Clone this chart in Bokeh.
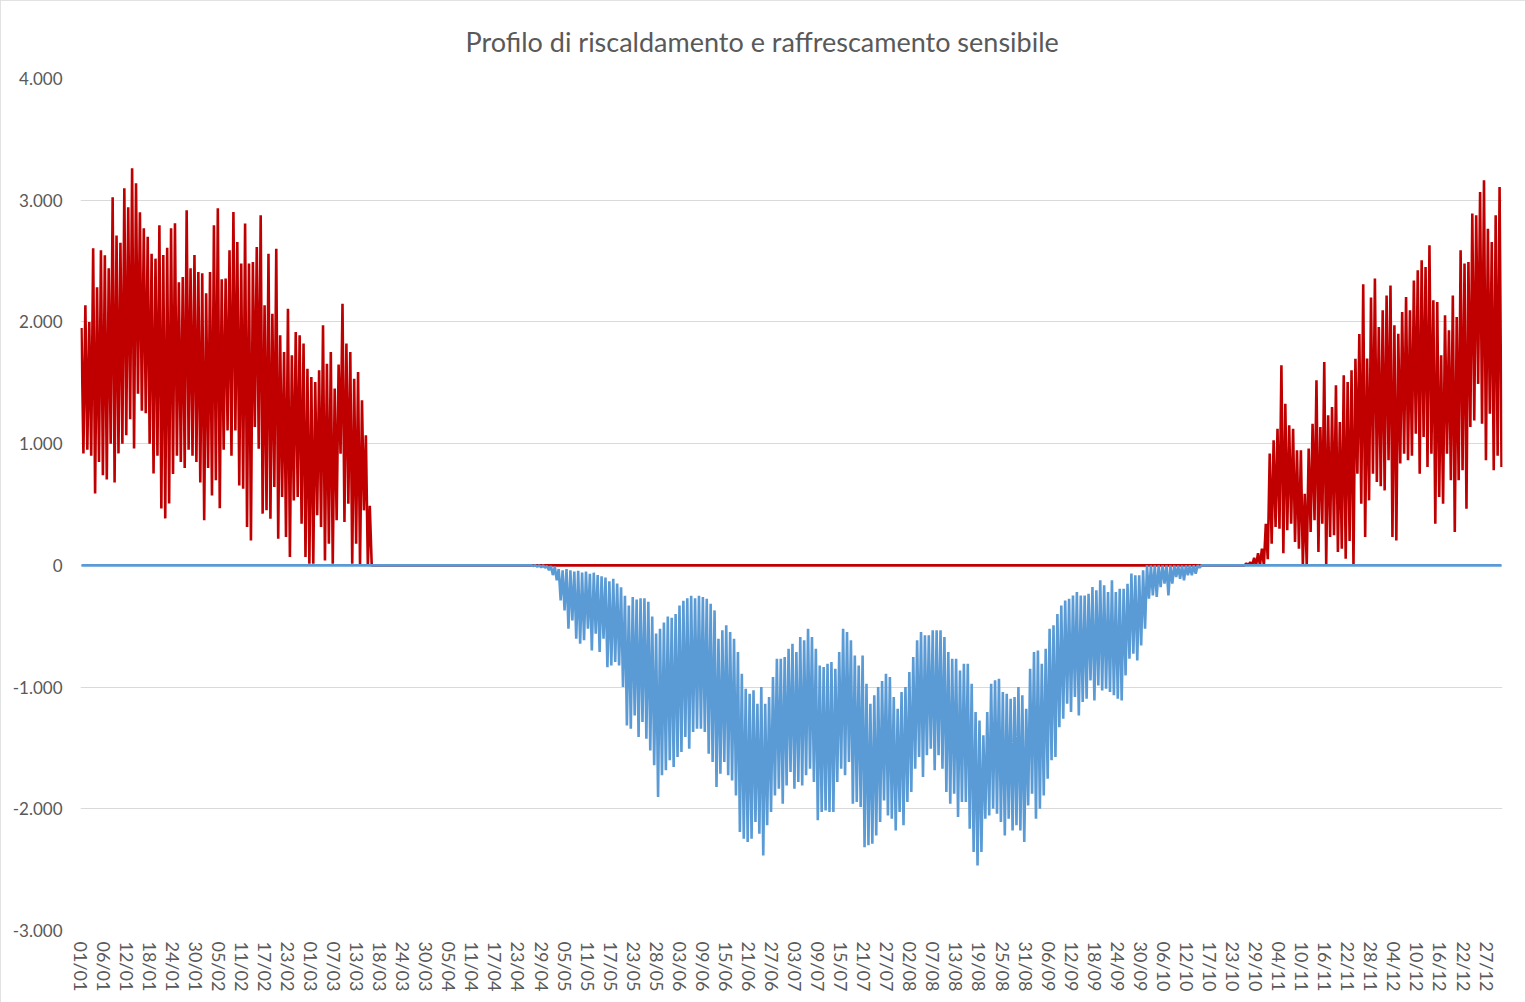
from bokeh.plotting import figure
from bokeh.models import FixedTicker, Range1d
from bokeh.embed import file_html
from bokeh.resources import INLINE

TITLE = "Profilo di riscaldamento e raffrescamento sensibile"

X_TICK_LABELS = ["01/01", "06/01", "12/01", "18/01", "24/01", "30/01", "05/02", "11/02", "17/02", "23/02",
                 "01/03", "07/03", "13/03", "18/03", "24/03", "30/03", "05/04", "11/04", "17/04", "23/04",
                 "29/04", "05/05", "11/05", "17/05", "23/05", "28/05", "03/06", "09/06", "15/06", "21/06",
                 "27/06", "03/07", "09/07", "15/07", "21/07", "27/07", "02/08", "07/08", "13/08", "19/08",
                 "25/08", "31/08", "06/09", "12/09", "18/09", "24/09", "30/09", "06/10", "12/10", "17/10",
                 "23/10", "29/10", "04/11", "10/11", "16/11", "22/11", "28/11", "04/12", "10/12", "16/12",
                 "22/12", "27/12"]
HOURS_PER_LABEL = 142
Y_TICKS = [4000, 3000, 2000, 1000, 0, -1000, -2000, -3000]
Y_TICK_LABELS = ["4.000", "3.000", "2.000", "1.000", "0", "-1.000", "-2.000", "-3.000"]

# Heating (riscaldamento), daily peak / daily minimum, winter from 01/01
HEAT1_START = 0
HEAT1_HIGH = [1950, 2136, 2000, 2605, 2285, 2588, 2547, 2440, 3024, 2711,
              2650, 3098, 2942, 3262, 3139, 2900, 2769, 2700, 2560, 2520,
              2794, 2550, 2610, 2769, 2810, 2325, 2370, 2917, 2440, 2550,
              2410, 2400, 2235, 2410, 2794, 2933, 2350, 2356, 2588, 2903,
              2657, 2479, 2808, 2479, 2493, 2616, 2876, 2136, 2561, 2068,
              2602, 1890, 1753, 2109, 1726, 1917, 1890, 1822, 1616, 1547,
              1506, 1602, 1972, 1657, 1753, 1452, 1650, 2150, 1822, 1753,
              1533, 1588, 1356, 1068, 490]
HEAT1_LOW = [920, 950, 900, 590, 850, 740, 706, 1000, 680, 920,
             1000, 1070, 1200, 960, 1410, 1270, 1250, 1000, 755, 900,
             468, 386, 508, 750, 900, 850, 800, 950, 900, 850,
             680, 370, 800, 575, 700, 470, 950, 1109, 900, 1109,
             657, 630, 315, 205, 1137, 959, 425, 452, 384, 644,
             219, 562, 233, 68, 534, 562, 342, 68, 14, 14,
             411, 315, 41, 178, 14, 370, 918, 356, 507, 14,
             178, 0, 452, 0, 0]

# Heating, autumn/winter season (from day 298)
HEAT2_START = 298
HEAT2_HIGH = [0, 15, 27, 62, 100, 137, 342, 918, 1028, 1123,
              1643, 1328, 1150, 1123, 945, 945, 589, 959, 1164, 1520,
              1137, 1671, 1233, 1301, 1479, 1178, 1561, 1506, 1602, 1698,
              1900, 2310, 1700, 2200, 2356, 1958, 2095, 2218, 2300, 1972,
              1903, 2082, 2205, 2095, 2341, 2424, 2506, 2451, 2629, 2178,
              2164, 1726, 2054, 1931, 2218, 2041, 2588, 2479, 2493, 2890,
              2876, 3068, 3163, 2766, 2657, 2876, 3109]
HEAT2_LOW = [0, 0, 0, 0, 0, 0, 50, 178, 315, 300,
             100, 288, 342, 192, 137, 0, 0, 274, 370, 110,
             342, 0, 233, 247, 110, 137, 55, 200, 0, 753,
             507, 233, 534, 753, 685, 650, 616, 863, 233, 205,
             836, 918, 863, 900, 1082, 753, 1054, 808, 918, 342,
             562, 507, 918, 699, 274, 699, 781, 466, 1136, 1191,
             1491, 1164, 863, 1246, 781, 900, 808]

# Cooling (raffrescamento), daily max (near zero) / daily minimum, from day 116
COOL_START = 116
COOL_HIGH = [0, 0, 0, -5, -5, -10, -30, -40, -30, -40,
             -50, -45, -60, -50, -70, -60, -80, -90, -100, -130,
             -110, -150, -180, -250, -330, -260, -280, -270, -270, -300,
             -420, -560, -520, -470, -420, -430, -400, -330, -290, -270,
             -250, -270, -250, -260, -274, -315, -370, -603, -534, -493,
             -548, -603, -712, -890, -1014, -1055, -1027, -1137, -1000, -1137,
             -1082, -918, -767, -767, -753, -685, -644, -712, -589, -616,
             -520, -589, -685, -822, -836, -808, -794, -849, -712, -520,
             -548, -616, -740, -822, -740, -973, -1137, -1068, -1000, -950,
             -890, -918, -1082, -1178, -1041, -1000, -877, -753, -616, -548,
             -575, -575, -534, -534, -534, -589, -712, -767, -767, -863,
             -808, -808, -973, -1205, -1274, -1397, -1205, -973, -945, -931,
             -1041, -1055, -1096, -1082, -1000, -1068, -1178, -849, -712, -699,
             -808, -685, -520, -493, -400, -329, -288, -274, -247, -219,
             -247, -247, -233, -178, -205, -123, -164, -219, -123, -219,
             -192, -192, -151, -68, -82, -82, -41, 0, 0, 0,
             0, 0, 0, 0, 0, 0, 0, 0, 0, 0,
             0, 0]
COOL_LOW = [-5, -10, -15, -20, -40, -80, -123, -288, -370, -520,
            -452, -603, -644, -616, -520, -699, -562, -712, -603, -836,
            -822, -794, -822, -1000, -1315, -1342, -1233, -1411, -1287, -1424,
            -1520, -1643, -1904, -1725, -1684, -1602, -1657, -1575, -1533, -1411,
            -1506, -1369, -1342, -1342, -1369, -1548, -1616, -1821, -1712, -1616,
            -1725, -1767, -1890, -2191, -2246, -2273, -2246, -2109, -2205, -2383,
            -2136, -2027, -1890, -1835, -1958, -1808, -1698, -1835, -1780, -1808,
            -1725, -1671, -1780, -2095, -2027, -2013, -2027, -2027, -1780, -1671,
            -1725, -1616, -1958, -1945, -1985, -2315, -2300, -2287, -2219, -2109,
            -1931, -2054, -2082, -2178, -2027, -2136, -1945, -1862, -1671, -1575,
            -1739, -1561, -1506, -1684, -1561, -1671, -1862, -1958, -1876, -2068,
            -1945, -1945, -2164, -2355, -2465, -2355, -2082, -2054, -2000, -2041,
            -2109, -2219, -2082, -2178, -2136, -2178, -2273, -1972, -1876, -2082,
            -2000, -1890, -1753, -1602, -1575, -1329, -1260, -1137, -1205, -1082,
            -1233, -1123, -1096, -945, -1110, -986, -1027, -1014, -1041, -1068,
            -1096, -1110, -904, -767, -726, -781, -658, -520, -274, -247,
            -260, -178, -151, -247, -151, -96, -110, -123, -82, -82,
            -68, -20]

DAYS = 365


def daily_series(blocks):
    hi = [0.0] * DAYS
    lo = [0.0] * DAYS
    for start, highs, lows in blocks:
        for i, (h, l) in enumerate(zip(highs, lows)):
            hi[start + i] = h
            lo[start + i] = l
    xs, ys = [], []
    for d in range(DAYS):
        xs += [d * 24 + 6, d * 24 + 18]
        ys += [hi[d], lo[d]]
    return xs, ys


hx, hy = daily_series([(HEAT1_START, HEAT1_HIGH, HEAT1_LOW), (HEAT2_START, HEAT2_HIGH, HEAT2_LOW)])
cx, cy = daily_series([(COOL_START, COOL_LOW, COOL_HIGH)])

p = figure(width=1525, height=1002, x_range=Range1d(0, DAYS * 24), y_range=Range1d(-3000, 4000),
           output_backend="svg", toolbar_location=None,
           min_border_left=80, min_border_right=23, min_border_top=78, min_border_bottom=72)
p.styles = {"outline": "2px solid #D9D9D9", "outline-offset": "-2px"}
p.outline_line_color = None
p.background_fill_color = "white"
p.border_fill_color = "white"

p.title.text = TITLE
p.title.align = "left"
p.title.vertical_align = "top"
p.title.offset = 385
p.title.standoff = 37
p.title.text_font = "Lato"
p.title.text_font_size = "27px"
p.title.text_font_style = "normal"
p.title.text_color = "#595959"

p.line(hx, hy, line_color="#C00000", line_width=2.6)
p.line(cx, cy, line_color="#5B9BD5", line_width=2.6)

p.xgrid.grid_line_color = None
p.ygrid.grid_line_color = "#D9D9D9"
p.ygrid.grid_line_width = 1

p.yaxis.ticker = FixedTicker(ticks=Y_TICKS)
p.yaxis.major_label_overrides = {t: s for t, s in zip(Y_TICKS, Y_TICK_LABELS)}
xt = [k * HOURS_PER_LABEL for k in range(len(X_TICK_LABELS))]
p.xaxis.ticker = FixedTicker(ticks=xt)
p.xaxis.major_label_overrides = {t: s for t, s in zip(xt, X_TICK_LABELS)}
p.xaxis.major_label_orientation = "vertical"

for ax in (p.xaxis, p.yaxis):
    ax.axis_line_color = None
    ax.major_tick_line_color = None
    ax.minor_tick_line_color = None
    ax.major_label_text_font = "Lato"
    ax.major_label_text_color = "#595959"
p.yaxis.major_label_text_font_size = "17px"
p.yaxis.major_label_standoff = 12
p.xaxis.major_label_text_font_size = "18px"
p.xaxis.major_label_standoff = 5

open("out.html", "w").write(file_html(p, INLINE))
